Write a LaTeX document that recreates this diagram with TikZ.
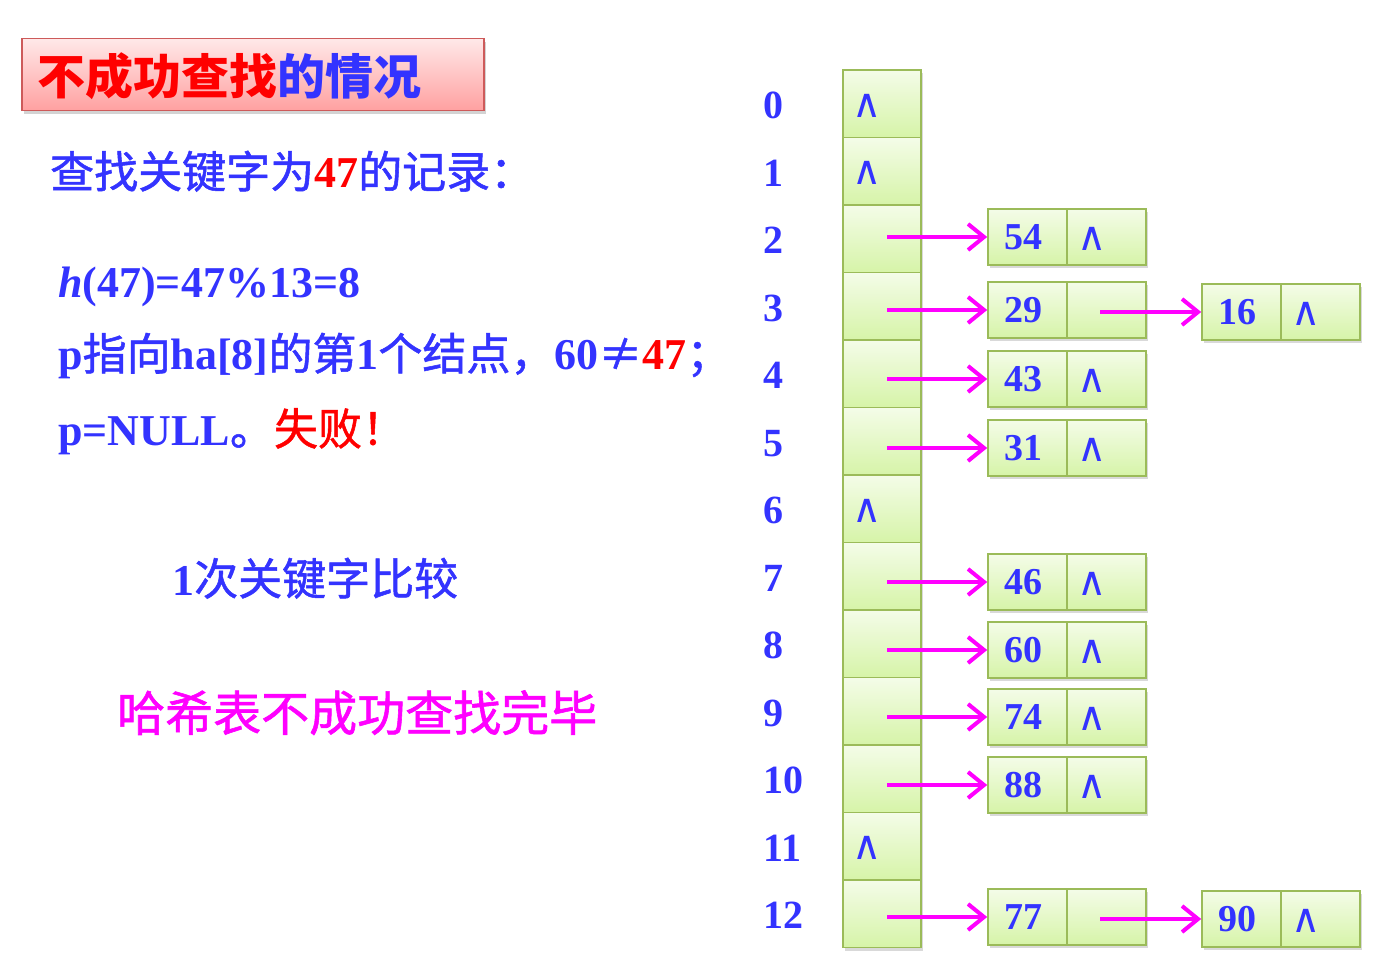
\documentclass[tikz,border=0pt]{standalone}
\usepackage{fontspec}
\setmainfont{Liberation Serif}
\newfontfamily\cjk{Noto Sans CJK SC}
\newfontfamily\cjkm{Noto Sans CJK SC}[FakeBold=1.2]
\newfontfamily\symfont{DejaVu Sans}
\usetikzlibrary{arrows.meta,shadows}
\definecolor{tblue}{RGB}{51,51,255}
\definecolor{tred}{RGB}{255,0,0}
\definecolor{tmag}{RGB}{255,0,255}
\definecolor{gborder}{RGB}{155,187,89}
\definecolor{gtop}{RGB}{244,252,232}
\definecolor{gbot}{RGB}{214,244,168}
\definecolor{ptop}{RGB}{255,232,232}
\definecolor{pbot}{RGB}{255,160,160}
\definecolor{pborder}{RGB}{205,90,90}
\newcommand\zh[1]{{\cjkm\mdseries #1}}
\newcommand\nil{{\symfont\mdseries\fontsize{40}{40}\selectfont ∧}}
\tikzset{
  cellbase/.style={draw=gborder, line width=1.6pt, top color=gtop, bottom color=gbot,
    drop shadow={shadow xshift=2pt, shadow yshift=-3pt, opacity=0.3},
    align=left, inner ysep=0pt, text=tblue, font=\bfseries\fontsize{38}{38}\selectfont},
  cell/.style={cellbase, minimum width=78, minimum height=67.5, text width=50, inner xsep=14},
  lnode/.style={cellbase, minimum width=79, minimum height=56, text width=47, inner xsep=16},
  idx/.style={anchor=west, inner sep=0pt, text=tblue, font=\bfseries\fontsize{40}{40}\selectfont},
  arr/.style={draw=tmag, line width=4pt, -{Straight Barb[length=16pt,width=26pt,line width=4pt]}},
  txt/.style={anchor=base west, inner sep=0pt, text=tblue, font=\bfseries\fontsize{44}{50}\selectfont},
  sym/.style={anchor=center, inner sep=0pt, text=tblue},
  titlebox/.style={draw=pborder, line width=1.5pt, top color=ptop, bottom color=pbot,
    drop shadow={shadow xshift=2pt, shadow yshift=-3pt, opacity=0.35},
    minimum width=462, minimum height=72, anchor=north west, inner sep=0pt},
}
\begin{document}
\begin{tikzpicture}[x=1pt,y=-1pt]
\useasboundingbox (0,0) rectangle (1392,973);
% title
\node[titlebox] (tb) at (21,38) {};
\node[anchor=west, inner sep=0pt, font=\cjk\bfseries\fontsize{48}{48}\selectfont] (tt) at ([xshift=16pt,yshift=-1pt]tb.west)
  {{\color{tred}不成功查找}{\color{tblue}的情况}};
% left texts
\node[txt] (l1) at (50,188) {\zh{查找关键字为}{\color{tred}47}\zh{的记录：}};
\node[txt] (l2) at (58,298) {{\itshape h}(47)=47\%13=8};
\node[txt] (l3) at (58,370) {p\zh{指向}ha[8]\zh{的第}1\zh{个结点，}60\zh{≠}{\color{tred}47}\zh{；}};
\node[txt] (l4) at (58,445) {p=NULL\zh{。}{\color{tred}\zh{失败！}}};
\node[txt] (l5) at (172,595) {1\zh{次关键字比较}};
\node[txt, text=tmag, font=\fontsize{48}{52}\selectfont] (l6) at (117,731) {\zh{哈希表不成功查找完毕}};
% table
\foreach \i in {0,...,12}{
  \node[cell] (t\i) at (882,{70+67.5*(\i+0.5)}) {};
  \node[idx] (n\i) at (763,{72+67.5*(\i+0.5)}) {\i};
}
\foreach \i in {0,1,6,11}{
  \node[sym] (z\i) at (867,{72+67.5*(\i+0.5)}) {\nil};
}
% single-node chains
\foreach \i/\y/\v in {2/237/54,4/379/43,5/448/31,7/582/46,8/650/60,9/717/74,10/785/88}{
  \node[lnode] (a\i) at (1027.5,\y) {\v};
  \node[lnode] (b\i) at (1106.5,\y) {};
  \node[sym] (q\i) at (1092,{\y+2}) {\nil};
  \coordinate (s\i) at (887,\y);
  \draw[arr] (s\i) -- (a\i.west);
}
% two-node chains
\foreach \i/\y/\v/\yy/\w in {3/310/29/312/16,12/917/77/919/90}{
  \node[lnode] (a\i) at (1027.5,\y) {\v};
  \node[lnode] (b\i) at (1106.5,\y) {};
  \node[lnode] (c\i) at (1241.5,\yy) {\w};
  \node[lnode] (e\i) at (1320.5,\yy) {};
  \node[sym] (q\i) at (1306,{\yy+2}) {\nil};
  \coordinate (s\i) at (887,\y);
  \coordinate (r\i) at (1100,\yy);
  \draw[arr] (s\i) -- (a\i.west);
  \draw[arr] (r\i) -- (c\i.west);
}
\end{tikzpicture}
\end{document}
